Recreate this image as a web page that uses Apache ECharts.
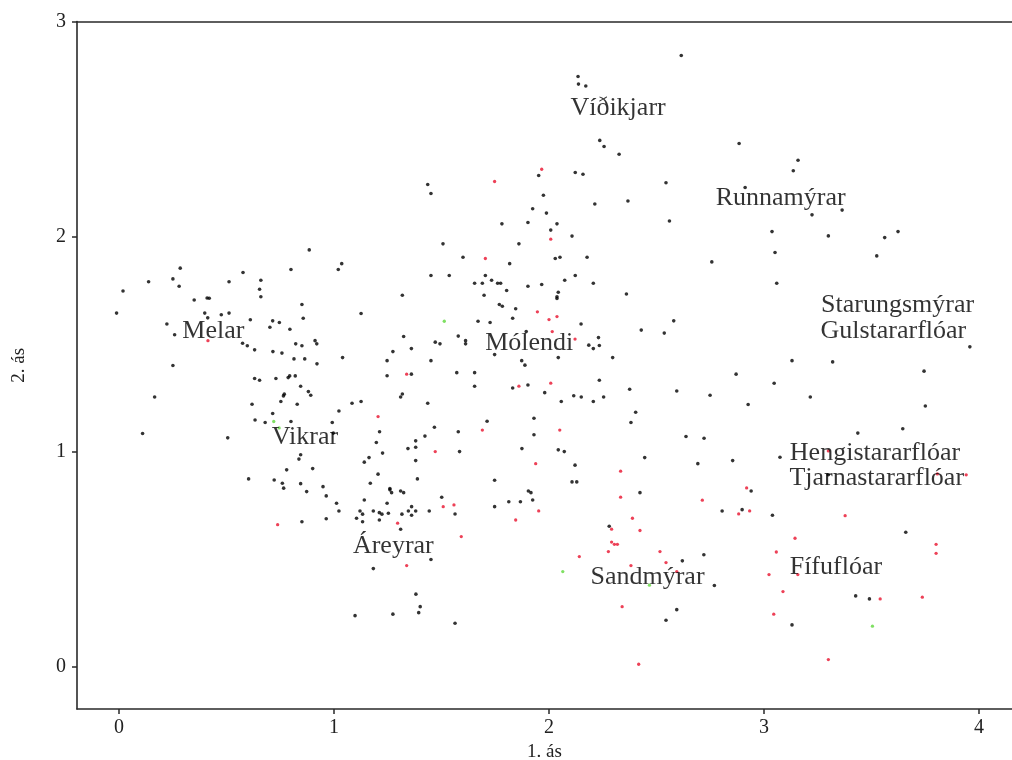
<!DOCTYPE html>
<html><head><meta charset="utf-8">
<script src="https://cdn.jsdelivr.net/npm/echarts@6/dist/echarts.min.js"></script>
<style>html,body{margin:0;padding:0;background:#fff}#c{width:1012px;height:760px}</style>
</head><body><div id="c"></div>
<script>
const xTicks = [0, 1, 2, 3, 4];
const yTicks = [0, 1, 2, 3];

const blackPoints = [
[0.885,1.938],[0.285,1.853],[0.80,1.847],[1.02,1.847],[0.577,1.833],[0.138,1.79],[0.251,1.803],[0.512,1.79],[0.66,1.797],[0.28,1.769],[0.019,1.747],[0.654,1.755],[0.66,1.72],[0.35,1.705],[0.41,1.714],[0.42,1.713],[0.851,1.684],[-0.011,1.644],[0.399,1.644],[0.476,1.636],[0.512,1.644],[0.413,1.622],[0.611,1.613],[0.857,1.62],[0.715,1.608],[0.746,1.60],[0.223,1.593],[0.702,1.578],[0.795,1.569],[0.259,1.543],[0.575,1.504],[0.597,1.492],[0.631,1.473],[0.912,1.516],[0.92,1.501],[0.822,1.501],[0.851,1.492],[0.716,1.465],[0.758,1.458],[0.814,1.431],[0.864,1.431],[0.921,1.408],[0.251,1.40],[0.631,1.34],[0.654,1.332],[0.73,1.34],[0.787,1.344],[0.794,1.352],[0.82,1.352],[0.845,1.304],[0.881,1.279],[0.892,1.262],[0.769,1.267],[0.765,1.259],[0.753,1.233],[0.166,1.254],[0.619,1.22],[0.829,1.22],[1.023,1.189],[0.715,1.177],[0.633,1.147],[0.68,1.135],[0.80,1.14],[0.992,1.135],[0.11,1.084],[0.506,1.064],[0.845,0.985],[0.837,0.965],[0.901,0.921],[0.78,0.915],[0.603,0.873],[0.722,0.868],[0.76,0.853],[0.766,0.83],[0.845,0.851],[0.949,0.837],
[0.873,0.814],[0.964,0.794],[1.012,0.76],[1.023,0.724],[0.851,0.674],[0.964,0.688],
[2.135,2.744],[2.137,2.709],[2.171,2.70],[2.236,2.447],[2.256,2.419],[2.326,2.383],[1.952,2.284],[2.122,2.298],[2.158,2.29],[1.436,2.242],[1.451,2.20],[2.544,2.25],[1.974,2.192],[2.213,2.151],[2.367,2.165],[1.924,2.129],[1.988,2.109],[1.781,2.059],[1.902,2.065],[2.037,2.059],[2.56,2.072],[2.008,2.03],[2.107,2.002],[1.507,1.966],[1.86,1.966],[1.60,1.904],[2.029,1.898],[2.051,1.904],[2.177,1.904],
[1.817,1.874],[1.036,1.874],[1.451,1.819],[1.536,1.819],[1.704,1.819],[1.654,1.783],[1.69,1.783],[1.733,1.797],[1.761,1.783],[1.775,1.783],[1.902,1.769],[1.966,1.777],[2.073,1.797],[2.122,1.819],[2.206,1.783],[1.803,1.749],[2.043,1.741],[2.037,1.72],[2.037,1.712],[2.36,1.733],[1.318,1.727],[1.698,1.727],[1.769,1.684],[1.783,1.676],[1.845,1.664],[1.126,1.642],[1.831,1.62],[1.67,1.606],[1.726,1.60],[2.149,1.593],[2.429,1.565],[2.536,1.551],[1.324,1.535],[1.36,1.479],[1.274,1.465],[1.471,1.509],[1.493,1.501],[1.578,1.537],[1.612,1.516],[1.612,1.501],[1.894,1.558],[2.185,1.495],[2.206,1.479],[2.23,1.53],[2.234,1.493],[1.747,1.451],[2.043,1.437],[2.296,1.437],[1.04,1.437],[1.247,1.423],[1.451,1.423],[1.873,1.423],[1.888,1.402],[1.247,1.353],[1.36,1.36],[1.571,1.367],[1.654,1.367],[1.654,1.304],[1.831,1.296],[1.902,1.31],[1.98,1.274],[2.234,1.332],[2.375,1.29],[1.31,1.254],[1.318,1.268],[1.084,1.225],[1.126,1.233],[1.436,1.225],[2.057,1.233],[2.115,1.26],[2.15,1.254],[2.206,1.233],[2.254,1.254],[0.997,1.086],[2.403,1.183],[2.381,1.135],[1.712,1.141],[1.93,1.155],[1.212,1.092],[1.467,1.113],[1.578,1.092],[1.93,1.078],[1.197,1.042],[1.423,1.072],[1.38,1.05],[1.38,1.02],[1.344,1.014],[1.226,0.993],[1.163,0.972],[1.141,0.951],[1.584,1.00],[1.874,1.014],[2.043,1.008],[2.071,1.00],[2.445,0.972],[1.38,0.958],[2.121,0.937],[1.205,0.895],[1.388,0.873],[1.747,0.867],[2.107,0.859],[2.129,0.859],[1.169,0.853],[1.26,0.828],
[1.26,0.822],[1.268,0.809],[1.31,0.817],[1.324,0.809],[1.141,0.775],[1.247,0.76],[1.105,0.69],[1.121,0.724],[1.133,0.709],[1.133,0.674],[1.183,0.724],[1.211,0.716],[1.223,0.709],[1.211,0.682],[1.253,0.713],[1.316,0.709],[1.346,0.724],[1.361,0.744],[1.361,0.704],[1.38,0.724],[1.443,0.724],[1.501,0.788],[1.563,0.71],[1.31,0.639],[1.747,0.744],[1.813,0.767],[1.867,0.767],[1.904,0.817],[1.916,0.809],[1.924,0.775],[2.423,0.809],[2.28,0.653],[1.451,0.498],[1.183,0.456],[1.381,0.337],[1.401,0.279],[1.394,0.251],[1.098,0.237],[1.274,0.244],[1.563,0.202],[2.544,0.216],
[2.615,2.842],[2.884,2.433],[3.158,2.355],[3.136,2.306],[2.912,2.228],[3.223,2.101],[3.363,2.123],[3.037,2.023],[3.299,2.003],[3.561,1.995],[3.623,2.023],[3.051,1.926],[3.524,1.91],
[2.757,1.882],[3.059,1.783],[2.58,1.608],[3.957,1.487],[3.13,1.423],[3.319,1.417],[3.744,1.374],[2.87,1.36],[3.047,1.318],[2.594,1.282],[2.749,1.262],[2.926,1.219],[3.215,1.254],[3.75,1.212],[2.637,1.07],[2.721,1.062],[3.436,1.086],[3.645,1.106],[2.692,0.944],[2.854,0.958],[3.074,0.974],[3.299,0.892],
[2.94,0.817],[2.805,0.724],[2.898,0.73],[3.039,0.704],[3.659,0.625],[2.62,0.492],[2.72,0.52],[2.769,0.377],[2.594,0.265],[3.13,0.194],[3.426,0.329],[3.49,0.315]
];

const redPoints = [
[0.414,1.516],[0.738,0.66],[1.966,2.313],[1.747,2.256],[2.008,1.988],[1.704,1.898],[1.946,1.65],[2.0,1.614],[2.037,1.628],[2.015,1.558],[2.121,1.523],[1.338,1.36],[1.86,1.304],[2.008,1.318],[1.205,1.163],[1.69,1.10],[2.05,1.10],[1.471,1.00],[1.938,0.944],[2.333,0.909],[1.508,0.744],[1.558,0.752],[1.296,0.667],[1.592,0.605],[1.845,0.682],[1.952,0.724],[2.333,0.788],[2.388,0.69],[2.291,0.639],[2.423,0.633],[2.291,0.579],[2.304,0.569],[2.318,0.569],[2.276,0.535],[2.516,0.535],[2.544,0.484],[2.141,0.512],[1.338,0.47],[2.381,0.47],[2.34,0.279],[2.417,0.011],[3.299,1.003],[3.806,0.896],[3.94,0.892],[2.919,0.831],[2.713,0.774],[2.882,0.71],[2.933,0.724],[3.377,0.702],[3.144,0.597],[3.8,0.569],[3.8,0.527],[3.057,0.533],[2.594,0.442],[3.023,0.428],[3.157,0.428],[3.088,0.349],[3.045,0.244],[3.54,0.315],[3.736,0.323],[3.299,0.033]
];

const greenPoints = [
[1.513,1.606],[0.72,1.14],[0.745,1.11],[2.064,0.442],[2.467,0.379],[3.504,0.188]
];

const labelNames = ['Víðikjarr','Runnamýrar','Starungsmýrar','Gulstararflóar','Melar','Mólendi','Vikrar','Hengistararflóar','Tjarnastararflóar','Áreyrar','Sandmýrar','Fífuflóar'];
const labelX = [2.321, 3.077, 3.621, 3.601, 0.439, 1.908, 0.865, 3.516, 3.524, 1.276, 2.458, 3.334];
const labelY = [2.599, 2.179, 1.682, 1.561, 1.561, 1.503, 1.068, 0.994, 0.878, 0.561, 0.417, 0.464];

const labelData = labelNames.map((n, i) => ({ name: n, value: [labelX[i], labelY[i]] }));

const serif = '"Liberation Serif","DejaVu Serif",serif';
const axisColor = '#2a2a2a';
const chart = echarts.init(document.getElementById('c'), null, { renderer: 'canvas' });
chart.setOption({
  animation: false,
  backgroundColor: '#fff',
  grid: { left: 77, right: 0, top: 21.5, bottom: 51, containLabel: false, outerBoundsMode: 'none' },
  xAxis: [{
    type: 'value', min: -0.195, max: 4.153,
    name: '1. ás', nameLocation: 'middle', nameGap: 33,
    nameTextStyle: { fontFamily: serif, fontSize: 19, color: '#222' },
    axisLine: { show: true, onZero: false, lineStyle: { color: axisColor, width: 1.6 } },
    axisTick: { show: true, length: 5, customValues: xTicks, lineStyle: { color: axisColor, width: 1.5 } },
    axisLabel: { customValues: xTicks, fontFamily: serif, fontSize: 20, color: '#222', margin: 9 },
    splitLine: { show: false }
  }, {
    type: 'value', position: 'top', min: -0.195, max: 4.153,
    axisLine: { show: true, onZero: false, lineStyle: { color: axisColor, width: 1.6 } },
    axisTick: { show: false }, axisLabel: { show: false }, splitLine: { show: false }
  }],
  yAxis: [{
    type: 'value', min: -0.197, max: 3.0,
    name: '2. ás', nameLocation: 'middle', nameGap: 48, nameRotate: 90,
    nameTextStyle: { fontFamily: serif, fontSize: 19, color: '#222' },
    axisLine: { show: true, onZero: false, lineStyle: { color: axisColor, width: 1.6 } },
    axisTick: { show: true, length: 5, customValues: yTicks, lineStyle: { color: axisColor, width: 1.5 } },
    axisLabel: { customValues: yTicks, fontFamily: serif, fontSize: 20, color: '#222', margin: 11 },
    splitLine: { show: false }
  }],
  series: [
    { type: 'scatter', name: 'black', data: blackPoints, symbolSize: 3.6, itemStyle: { color: '#000' }, silent: true, z: 3 },
    { type: 'scatter', name: 'red', data: redPoints, symbolSize: 3.3, itemStyle: { color: '#e8112d' }, silent: true, z: 3 },
    { type: 'scatter', name: 'green', data: greenPoints, symbolSize: 3.3, itemStyle: { color: '#5fd83c' }, silent: true, z: 3 },
    { type: 'scatter', name: 'labels', data: labelData, symbolSize: 0, silent: true, z: 4,
      label: { show: true, position: 'inside', formatter: p => p.name, fontFamily: serif, fontSize: 26, color: '#000' } }
  ]
});
</script></body></html>
